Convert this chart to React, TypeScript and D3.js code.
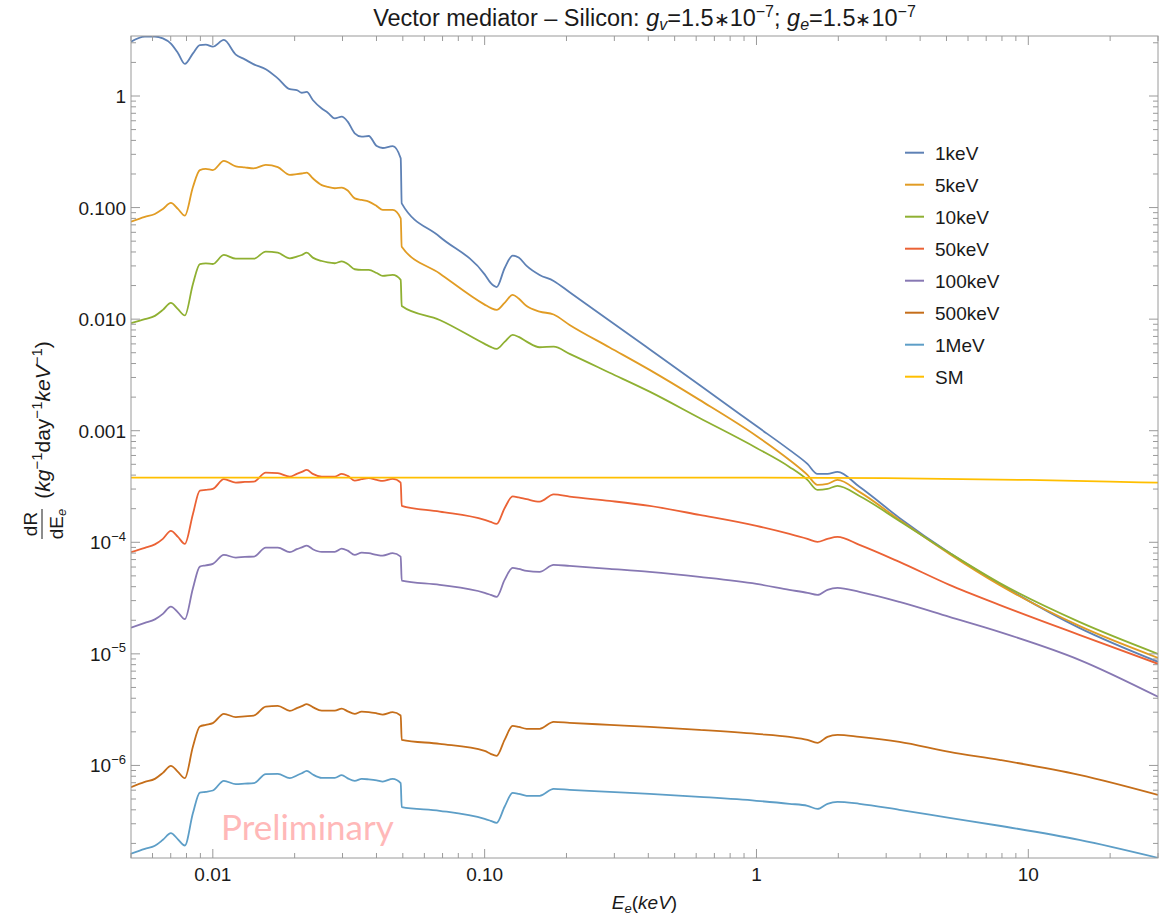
import React from "react";
import * as d3 from "d3";

// Electron recoil energy grid (keV) shared by the vector-mediator spectra
const energyKeV = [
  0.005, 0.00562, 0.00612, 0.00655, 0.00701, 0.00744, 0.00789, 0.00845, 0.00896, 0.00942,
  0.01, 0.01098, 0.01215, 0.01311, 0.01415, 0.01566, 0.01734, 0.0192, 0.02036, 0.02125,
  0.02216, 0.02332, 0.02516, 0.02648, 0.02809, 0.02981, 0.03135, 0.03327, 0.03529, 0.03746,
  0.04009, 0.04217, 0.04589, 0.04911, 0.04953, 0.06832, 0.1, 0.1052, 0.1107, 0.1184,
  0.1268, 0.1334, 0.1427, 0.1593, 0.1794, 0.2054, 0.2882, 0.4044, 0.6172, 1,
  1.322, 1.54, 1.676, 1.824, 1.986, 2.392, 3.356, 5.125, 7.824, 15.4, 30,
];

// dR/dE_e (kg^-1 day^-1 keV^-1) for each mediator mass
const rate1keV = [
  3.07, 3.41, 3.41, 3.28, 2.95, 2.43, 1.94, 2.41, 2.86, 2.89,
  2.77, 3.18, 2.35, 2.13, 1.92, 1.74, 1.44, 1.15, 1.13, 1.07,
  1.09, 0.921, 0.773, 0.709, 0.631, 0.653, 0.589, 0.463, 0.432, 0.438,
  0.356, 0.342, 0.356, 0.277, 0.109, 0.0548, 0.0252, 0.0211, 0.0194, 0.0286,
  0.0371, 0.0357, 0.03, 0.0249, 0.022, 0.0174, 0.00968, 0.00537, 0.00257, 0.0011,
  6.73e-4, 5.04e-4, 4.1e-4, 4.1e-4, 4.27e-4, 3.14e-4, 1.654e-4, 8.04e-5, 4.24e-5, 1.71e-5, 8.48e-6,
];
const rate5keV = [
  0.0747, 0.0824, 0.0876, 0.0972, 0.11, 0.0972, 0.0846, 0.153, 0.217, 0.222,
  0.217, 0.262, 0.234, 0.229, 0.225, 0.241, 0.23, 0.196, 0.199, 0.202,
  0.206, 0.183, 0.159, 0.153, 0.149, 0.151, 0.142, 0.121, 0.117, 0.113,
  0.103, 0.0952, 0.0952, 0.0802, 0.0446, 0.0257, 0.0135, 0.0126, 0.0121, 0.014,
  0.0165, 0.0153, 0.0131, 0.0117, 0.011, 0.00887, 0.00558, 0.00351, 0.00189, 8.98e-4,
  5.47e-4, 4.02e-4, 3.27e-4, 3.34e-4, 3.62e-4, 2.83e-4, 1.587e-4, 7.87e-5, 4.15e-5, 1.78e-5, 9.21e-6,
];
const rate10keV = [
  0.00919, 0.01, 0.0107, 0.0121, 0.014, 0.0123, 0.0108, 0.0207, 0.0312, 0.0316,
  0.0312, 0.0376, 0.0348, 0.0348, 0.0348, 0.0403, 0.0394, 0.0351, 0.0363, 0.0376,
  0.0394, 0.0356, 0.0332, 0.0322, 0.0317, 0.033, 0.0312, 0.028, 0.0276, 0.0276,
  0.0259, 0.0244, 0.0249, 0.0225, 0.0131, 0.00983, 0.006, 0.00564, 0.00541, 0.00625,
  0.00722, 0.00693, 0.00629, 0.0056, 0.00567, 0.00488, 0.00331, 0.00224, 0.0013, 7.01e-4,
  4.74e-4, 3.62e-4, 2.95e-4, 3.01e-4, 3.2e-4, 2.6e-4, 1.555e-4, 8.04e-5, 4.33e-5, 1.935e-5, 1.0e-5,
];
const rate50keV = [
  8.15e-5, 8.91e-5, 9.57e-5, 1.073e-4, 1.265e-4, 1.118e-4, 9.67e-5, 1.797e-4, 2.905e-4, 2.948e-4,
  3.01e-4, 3.677e-4, 3.426e-4, 3.476e-4, 3.498e-4, 4.213e-4, 4.161e-4, 3.879e-4, 4.1e-4, 4.273e-4,
  4.453e-4, 4.1e-4, 3.88e-4, 3.88e-4, 3.88e-4, 4.1e-4, 3.936e-4, 3.571e-4, 3.677e-4, 3.753e-4,
  3.623e-4, 3.549e-4, 3.7e-4, 3.426e-4, 2.119e-4, 1.884e-4, 1.587e-4, 1.523e-4, 1.462e-4, 2.021e-4,
  2.577e-4, 2.524e-4, 2.432e-4, 2.315e-4, 2.686e-4, 2.567e-4, 2.35e-4, 2.119e-4, 1.76e-4, 1.403e-4,
  1.189e-4, 1.073e-4, 1.008e-4, 1.073e-4, 1.118e-4, 9.48e-5, 6.67e-5, 4.15e-5, 2.75e-5, 1.48e-5, 8.14e-6,
];
const rate100keV = [
  1.72e-5, 1.896e-5, 2.037e-5, 2.283e-5, 2.653e-5, 2.354e-5, 2.046e-5, 3.879e-5, 6.057e-5, 6.209e-5,
  6.405e-5, 7.71e-5, 7.29e-5, 7.4e-5, 7.444e-5, 8.96e-5, 8.96e-5, 8.15e-5, 8.67e-5, 9.0e-5,
  9.34e-5, 8.67e-5, 8.2e-5, 8.2e-5, 8.2e-5, 8.78e-5, 8.42e-5, 7.71e-5, 8.08e-5, 7.98e-5,
  7.71e-5, 7.6e-5, 7.98e-5, 7.44e-5, 4.54e-5, 4.15e-5, 3.52e-5, 3.38e-5, 3.24e-5, 4.6e-5,
  5.9e-5, 5.78e-5, 5.54e-5, 5.43e-5, 6.27e-5, 6.14e-5, 5.78e-5, 5.43e-5, 4.9e-5, 4.24e-5,
  3.75e-5, 3.52e-5, 3.38e-5, 3.75e-5, 3.9e-5, 3.59e-5, 2.92e-5, 2.145e-5, 1.574e-5, 8.84e-6, 4.12e-6,
];
const rate500keV = [
  6.39e-7, 7.13e-7, 7.58e-7, 8.58e-7, 9.92e-7, 8.76e-7, 7.69e-7, 1.477e-6, 2.232e-6, 2.31e-6,
  2.393e-6, 2.9e-6, 2.71e-6, 2.754e-6, 2.8e-6, 3.372e-6, 3.42e-6, 3.084e-6, 3.26e-6, 3.4e-6,
  3.54e-6, 3.33e-6, 3.1e-6, 3.1e-6, 3.1e-6, 3.235e-6, 3.053e-6, 2.9e-6, 3.04e-6, 3.01e-6,
  2.93e-6, 2.858e-6, 3.003e-6, 2.8e-6, 1.696e-6, 1.561e-6, 1.351e-6, 1.27e-6, 1.219e-6, 1.696e-6,
  2.264e-6, 2.218e-6, 2.128e-6, 2.128e-6, 2.458e-6, 2.408e-6, 2.31e-6, 2.218e-6, 2.085e-6, 1.919e-6,
  1.804e-6, 1.696e-6, 1.594e-6, 1.804e-6, 1.88e-6, 1.804e-6, 1.627e-6, 1.324e-6, 1.122e-6, 8.24e-7, 5.45e-7,
];
const rate1MeV = [
  1.614e-7, 1.79e-7, 1.904e-7, 2.154e-7, 2.474e-7, 2.177e-7, 1.916e-7, 3.737e-7, 5.716e-7, 5.8e-7,
  5.958e-7, 7.28e-7, 6.8e-7, 6.87e-7, 6.94e-7, 8.36e-7, 8.41e-7, 7.69e-7, 8.12e-7, 8.5e-7,
  8.94e-7, 8.29e-7, 7.74e-7, 7.74e-7, 7.74e-7, 8.19e-7, 7.66e-7, 7.28e-7, 7.58e-7, 7.5e-7,
  7.35e-7, 7.17e-7, 7.58e-7, 6.94e-7, 4.23e-7, 3.92e-7, 3.32e-7, 3.19e-7, 3.06e-7, 4.26e-7,
  5.68e-7, 5.57e-7, 5.34e-7, 5.34e-7, 6.17e-7, 6.05e-7, 5.8e-7, 5.57e-7, 5.23e-7, 4.82e-7,
  4.53e-7, 4.35e-7, 4.08e-7, 4.53e-7, 4.72e-7, 4.53e-7, 4.0e-7, 3.39e-7, 2.88e-7, 2.154e-7, 1.486e-7,
];

// Standard Model neutrino-electron background
const smEnergyKeV = [0.005, 1, 3, 10, 20, 30];
const smRate = [3.8e-4, 3.8e-4, 3.76e-4, 3.62e-4, 3.5e-4, 3.42e-4];

const seriesNames = ["1keV", "5keV", "10keV", "50keV", "100keV", "500keV", "1MeV", "SM"];
const seriesColors = ["#5e81b5", "#e19c24", "#8fb032", "#eb6235", "#8778b3", "#c56e1a", "#5d9ec7", "#ffbf00"];

const xTickValues = [0.01, 0.1, 1, 10];
const xTickLabels = ["0.01", "0.10", "1", "10"];
const yTickValues = [1, 0.1, 0.01, 0.001, 1e-4, 1e-5, 1e-6];
const yTickBase = ["1", "0.100", "0.010", "0.001", "10", "10", "10"];
const yTickExp = ["", "", "", "", "−4", "−5", "−6"];

const W = 1174;
const H = 916;
const M = { left: 131, right: 1158, top: 36, bottom: 858 };
const FONT = "'Liberation Sans', Arial, Helvetica, sans-serif";
const AXIS = "#9a9a9a";

function minorTicks(lo: number, hi: number): number[] {
  const out: number[] = [];
  for (let k = Math.floor(Math.log10(lo)); k <= Math.ceil(Math.log10(hi)); k++) {
    for (let m = 2; m <= 9; m++) {
      const v = m * Math.pow(10, k);
      if (v >= lo && v <= hi) out.push(v);
    }
  }
  return out;
}

export default function App() {
  const x = d3.scaleLog().domain([0.005, 30]).range([M.left, M.right]);
  const y = d3.scaleLog().domain([1.48e-7, 3.45]).range([M.bottom, M.top]);

  const line = d3
    .line<[number, number]>()
    .x((d) => x(d[0]))
    .y((d) => y(d[1]))
    .curve(d3.curveMonotoneX);

  const rates = [rate1keV, rate5keV, rate10keV, rate50keV, rate100keV, rate500keV, rate1MeV];
  const paths: [number, number][][] = rates.map((vals) =>
    energyKeV.map((e, i) => [e, vals[i]] as [number, number])
  );
  paths.push(smEnergyKeV.map((e, i) => [e, smRate[i]] as [number, number]));

  const [xLo, xHi] = x.domain();
  const [yLo, yHi] = y.domain();
  const xMinor = minorTicks(xLo, xHi).filter((v) => !xTickValues.includes(v));
  const yMinor = minorTicks(yLo, yHi).filter((v) => !yTickValues.some((t) => Math.abs(t - v) / v < 1e-9));

  const majorLen = 9;
  const minorLen = 5;

  return (
    <svg
      width={W}
      height={H}
      style={{ position: "absolute", left: 0, top: 0, background: "#fff" }}
      fontFamily={FONT}
    >
      <rect x={0} y={0} width={W} height={H} fill="#fff" />
      <defs>
        <clipPath id="plotArea">
          <rect x={M.left} y={M.top} width={M.right - M.left} height={M.bottom - M.top} />
        </clipPath>
      </defs>

      {/* Title */}
      <text x={(M.left + M.right) / 2} y={26} textAnchor="middle" fontSize={23.5} fill="#1a1a1a">
        {"Vector mediator – Silicon: "}
        <tspan fontStyle="italic">g</tspan>
        <tspan fontSize={16} dy={4} fontStyle="italic">v</tspan>
        <tspan dy={-4}>{"=1.5"}</tspan>
        <tspan fontSize={19}>∗</tspan>
        <tspan>10</tspan>
        <tspan fontSize={16} dy={-9}>−7</tspan>
        <tspan dy={9}>{"; "}</tspan>
        <tspan fontStyle="italic">g</tspan>
        <tspan fontSize={16} dy={4} fontStyle="italic">e</tspan>
        <tspan dy={-4}>{"=1.5"}</tspan>
        <tspan fontSize={19}>∗</tspan>
        <tspan>10</tspan>
        <tspan fontSize={16} dy={-9}>−7</tspan>
      </text>

      {/* Watermark */}
      <text x={221} y={840} fontFamily="Lato, 'Open Sans', sans-serif" fontSize={35} fill="#ffb8b8">
        Preliminary
      </text>

      {/* Curves */}
      <g clipPath="url(#plotArea)" fill="none" strokeWidth={1.8} strokeLinejoin="round">
        {paths.map((p, i) => (
          <path key={seriesNames[i]} d={line(p) || ""} stroke={seriesColors[i]} />
        ))}
      </g>

      {/* Frame */}
      <rect
        x={M.left}
        y={M.top}
        width={M.right - M.left}
        height={M.bottom - M.top}
        fill="none"
        stroke={AXIS}
        strokeWidth={1}
      />

      {/* Ticks on all four sides */}
      <g stroke={AXIS} strokeWidth={1}>
        {xTickValues.map((v) => (
          <g key={"xM" + v}>
            <line x1={x(v)} x2={x(v)} y1={M.bottom} y2={M.bottom - majorLen} />
            <line x1={x(v)} x2={x(v)} y1={M.top} y2={M.top + majorLen} />
          </g>
        ))}
        {xMinor.map((v) => (
          <g key={"xm" + v}>
            <line x1={x(v)} x2={x(v)} y1={M.bottom} y2={M.bottom - minorLen} />
            <line x1={x(v)} x2={x(v)} y1={M.top} y2={M.top + minorLen} />
          </g>
        ))}
        {yTickValues.map((v) => (
          <g key={"yM" + v}>
            <line y1={y(v)} y2={y(v)} x1={M.left} x2={M.left + majorLen} />
            <line y1={y(v)} y2={y(v)} x1={M.right} x2={M.right - majorLen} />
          </g>
        ))}
        {yMinor.map((v) => (
          <g key={"ym" + v}>
            <line y1={y(v)} y2={y(v)} x1={M.left} x2={M.left + minorLen} />
            <line y1={y(v)} y2={y(v)} x1={M.right} x2={M.right - minorLen} />
          </g>
        ))}
      </g>

      {/* X tick labels */}
      <g fontSize={19} fill="#1a1a1a" textAnchor="middle">
        {xTickValues.map((v, i) => (
          <text key={"xl" + v} x={x(v)} y={881}>
            {xTickLabels[i]}
          </text>
        ))}
      </g>

      {/* Y tick labels */}
      <g fontSize={19} fill="#1a1a1a" textAnchor="end">
        {yTickValues.map((v, i) => (
          <text key={"yl" + v} x={126} y={y(v) + 7}>
            {yTickBase[i]}
            {yTickExp[i] ? (
              <tspan fontSize={13} dy={-8.5}>
                {yTickExp[i]}
              </tspan>
            ) : null}
          </text>
        ))}
      </g>

      {/* X axis title */}
      <text x={(M.left + M.right) / 2} y={909} textAnchor="middle" fontSize={19} fill="#1a1a1a">
        <tspan fontStyle="italic">E</tspan>
        <tspan fontSize={13} dy={4} fontStyle="italic">e</tspan>
        <tspan dy={-4}>(</tspan>
        <tspan fontStyle="italic">keV</tspan>
        <tspan>)</tspan>
      </text>

      {/* Y axis title: fraction dR/dE_e */}
      <g transform="translate(0,524) rotate(-90)" fill="#1a1a1a" fontSize={19}>
        <text x={0} y={37} textAnchor="middle">dR</text>
        <line x1={-15} x2={15} y1={42} y2={42} stroke="#1a1a1a" strokeWidth={1} />
        <text x={0} y={63} textAnchor="middle">
          dE<tspan fontSize={13} dy={3} fontStyle="italic">e</tspan>
        </text>
      </g>
      <g transform="translate(0,420) rotate(-90)" fill="#1a1a1a" fontSize={21}>
        <text x={0} y={50} textAnchor="middle">
          (<tspan fontStyle="italic">kg</tspan>
          <tspan fontSize={15} dy={-8}>−1</tspan>
          <tspan dy={8}>day</tspan>
          <tspan fontSize={15} dy={-8}>−1</tspan>
          <tspan dy={8} fontStyle="italic">keV</tspan>
          <tspan fontSize={15} dy={-8}>−1</tspan>
          <tspan dy={8}>)</tspan>
        </text>
      </g>

      {/* Legend */}
      <g fontSize={19} fill="#1a1a1a">
        {seriesNames.map((name, i) => {
          const cy = 152.7 + 32 * i;
          return (
            <g key={"lg" + name}>
              <line x1={905} x2={924} y1={cy} y2={cy} stroke={seriesColors[i]} strokeWidth={2} />
              <text x={935} y={cy + 7}>
                {name}
              </text>
            </g>
          );
        })}
      </g>
    </svg>
  );
}
